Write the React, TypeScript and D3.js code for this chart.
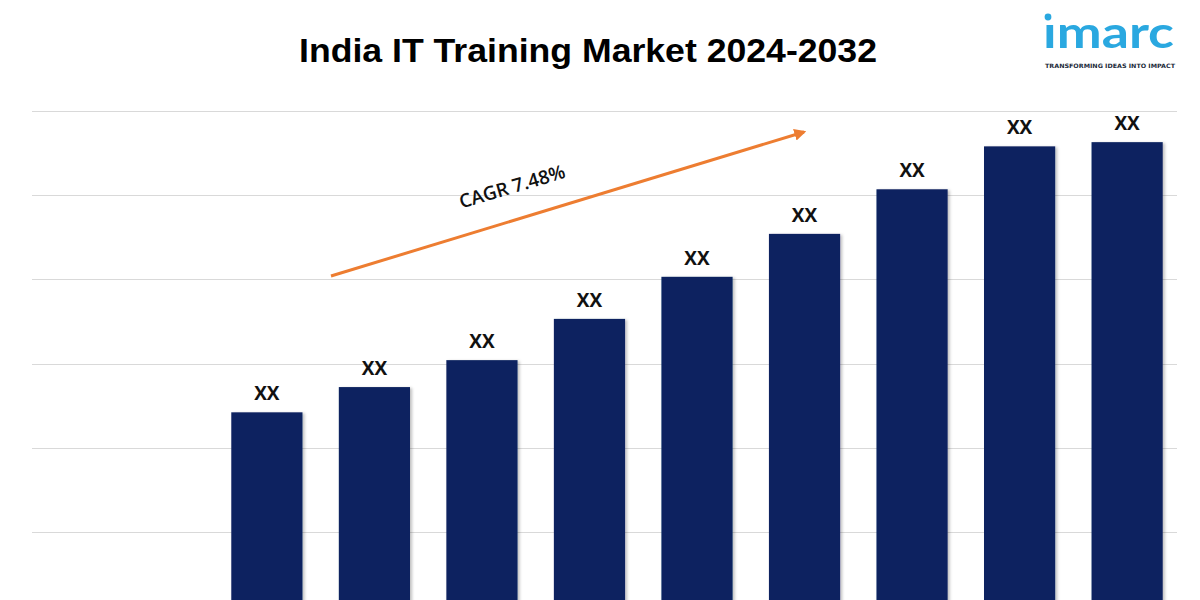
import { useEffect, useRef } from 'react';
import * as d3 from 'd3';

const YEARS = ['2024', '2025', '2026', '2027', '2028', '2029', '2030', '2031', '2032'];
const VALUES = [24.2, 27.2, 30.4, 35.3, 40.3, 45.4, 50.7, 55.8, 56.3];
const BAR_LABELS = ['XX', 'XX', 'XX', 'XX', 'XX', 'XX', 'XX', 'XX', 'XX'];
const GRID_TICKS = [10, 20, 30, 40, 50, 60];

const TITLE = 'India IT Training Market 2024-2032';
const CAGR_LABEL = 'CAGR 7.48%';

const BAR_COLOR = '#0b2461';
const ARROW_COLOR = '#ed7d31';
const GRID_COLOR = '#d9d9d9';

export default function App() {
  const svgRef = useRef<SVGSVGElement>(null);

  useEffect(() => {
    if (!svgRef.current) return;

    const width = 1200;
    const height = 600;

    const svg = d3.select(svgRef.current);
    svg.selectAll('*').remove();
    svg.attr('viewBox', `0 0 ${width} ${height}`);

    svg.append('rect').attr('width', width).attr('height', height).attr('fill', '#ffffff');

    const defs = svg.append('defs');
    const shadow = defs.append('filter').attr('id', 'barShadow')
      .attr('x', '-10%').attr('y', '-10%').attr('width', '130%').attr('height', '130%');
    shadow.append('feDropShadow')
      .attr('dx', 2).attr('dy', 1).attr('stdDeviation', 1.5)
      .attr('flood-color', '#000').attr('flood-opacity', 0.25);

    defs.append('marker')
      .attr('id', 'arrowHead')
      .attr('viewBox', '0 0 10 10')
      .attr('refX', 8).attr('refY', 5)
      .attr('markerWidth', 4).attr('markerHeight', 4)
      .attr('orient', 'auto')
      .append('path')
      .attr('d', 'M0,0 L10,5 L0,10 Z')
      .attr('fill', ARROW_COLOR);

    // scales: baseline sits just below the visible area
    const x = d3.scaleBand().domain(YEARS).range([213, 1181]).paddingInner(0.338).paddingOuter(0.17);
    const y = d3.scaleLinear().domain([0, 60]).range([616, 111]);

    // === gridlines ===
    svg.append('g')
      .selectAll('line')
      .data(GRID_TICKS)
      .join('line')
      .attr('x1', 32).attr('x2', 1177)
      .attr('y1', (d) => Math.round(y(d)) + 0.5)
      .attr('y2', (d) => Math.round(y(d)) + 0.5)
      .attr('stroke', GRID_COLOR)
      .attr('stroke-width', 1.2);

    // === bars ===
    svg.append('g')
      .selectAll('rect')
      .data(VALUES)
      .join('rect')
      .attr('x', (_, i) => x(YEARS[i]) as number)
      .attr('y', (d) => y(d))
      .attr('width', x.bandwidth())
      .attr('height', (d) => y(0) - y(d))
      .attr('fill', BAR_COLOR)
      .attr('filter', 'url(#barShadow)');

    // === value labels ===
    svg.append('g')
      .selectAll('text')
      .data(VALUES)
      .join('text')
      .attr('x', (_, i) => (x(YEARS[i]) as number) + x.bandwidth() / 2)
      .attr('y', (d) => y(d) - 12)
      .attr('text-anchor', 'middle')
      .attr('font-family', '"Open Sans", sans-serif')
      .attr('font-weight', 700)
      .attr('font-size', 19)
      .attr('fill', '#111')
      .text((_, i) => BAR_LABELS[i]);

    // === CAGR arrow ===
    svg.append('line')
      .attr('x1', 331).attr('y1', 276)
      .attr('x2', 804).attr('y2', 132)
      .attr('stroke', ARROW_COLOR)
      .attr('stroke-width', 3)
      .attr('marker-end', 'url(#arrowHead)');

    svg.append('text')
      .attr('transform', 'translate(514,193) rotate(-16.5)')
      .attr('text-anchor', 'middle')
      .attr('font-family', '"Open Sans", sans-serif')
      .attr('font-weight', 600)
      .attr('font-size', 19)
      .attr('fill', '#111')
      .text(CAGR_LABEL);

    // === title ===
    svg.append('text')
      .attr('x', 588).attr('y', 62)
      .attr('text-anchor', 'middle')
      .attr('font-family', '"Liberation Sans", Arial, sans-serif')
      .attr('font-weight', 700)
      .attr('font-size', 34)
      .attr('fill', '#000')
      .attr('textLength', 578)
      .attr('lengthAdjust', 'spacingAndGlyphs')
      .text(TITLE);

    // === logo ===
    const logo = svg.append('g');
    logo.append('text')
      .attr('x', 1043).attr('y', 48)
      .attr('font-family', 'Lato, "Open Sans", sans-serif')
      .attr('font-weight', 700)
      .attr('font-size', 44)
      .attr('fill', '#2aa8e0')
      .attr('textLength', 131)
      .attr('lengthAdjust', 'spacingAndGlyphs')
      .text('ımarc');
    logo.append('circle').attr('cx', 1048).attr('cy', 17).attr('r', 3.4).attr('fill', '#2aa8e0');
    logo.append('text')
      .attr('x', 1045).attr('y', 68)
      .attr('font-family', '"DejaVu Sans", sans-serif')
      .attr('font-weight', 700)
      .attr('font-size', 6)
      .attr('fill', '#1b2a3a')
      .attr('textLength', 130)
      .attr('lengthAdjust', 'spacingAndGlyphs')
      .text('TRANSFORMING IDEAS INTO IMPACT');
  }, []);

  return (
    <svg
      ref={svgRef}
      width={1200}
      height={600}
      style={{ position: 'fixed', left: 0, top: 0, display: 'block' }}
    />
  );
}
